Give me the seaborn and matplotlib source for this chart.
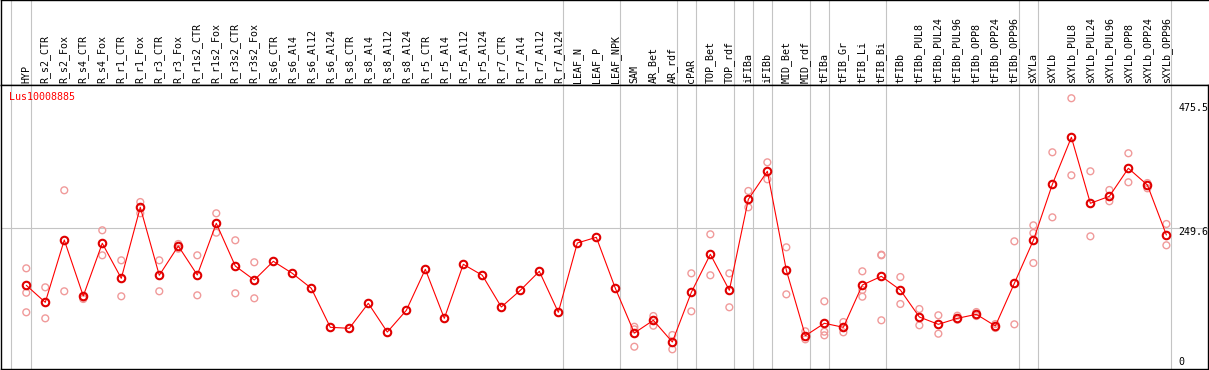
import numpy as np
import pandas as pd
import matplotlib
matplotlib.use("Agg")
import matplotlib.pyplot as plt
import matplotlib.transforms as mtransforms
import seaborn as sns

# categories (x axis, rotated header labels)
samples = ["HYP", "R_s2_CTR", "R_s2_Fox", "R_s4_CTR", "R_s4_Fox", "R_r1_CTR", "R_r1_Fox",
           "R_r3_CTR", "R_r3_Fox", "R_r1s2_CTR", "R_r1s2_Fox", "R_r3s2_CTR", "R_r3s2_Fox",
           "R_s6_CTR", "R_s6_Al4", "R_s6_Al12", "R_s6_Al24", "R_s8_CTR", "R_s8_Al4",
           "R_s8_Al12", "R_s8_Al24", "R_r5_CTR", "R_r5_Al4", "R_r5_Al12", "R_r5_Al24",
           "R_r7_CTR", "R_r7_Al4", "R_r7_Al12", "R_r7_Al24", "LEAF_N", "LEAF_P", "LEAF_NPK",
           "SAM", "AR_Bet", "AR_rdf", "cPAR", "TOP_Bet", "TOP_rdf", "iFIBa", "iFIBb",
           "MID_Bet", "MID_rdf", "tFIBa", "tFIB_Gr", "tFIB_Li", "tFIB_Bi", "tFIBb",
           "tFIBb_PUL8", "tFIBb_PUL24", "tFIBb_PUL96", "tFIBb_OPP8", "tFIBb_OPP24",
           "tFIBb_OPP96", "sXYLa", "sXYLb", "sXYLb_PUL8", "sXYLb_PUL24", "sXYLb_PUL96",
           "sXYLb_OPP8", "sXYLb_OPP24", "sXYLb_OPP96"]

# mean expression per sample
means = [150.5, 120.9, 229.2, 131.9, 223.5, 162.6, 286.0, 167.9, 218.8, 168.4, 258.2,
         184.0, 159.7, 192.2, 171.3, 145.3, 77.5, 75.8, 119.2, 69.3, 107.0, 178.3, 93.1,
         187.0, 167.9, 112.8, 141.8, 174.8, 103.6, 224.0, 233.9, 145.3, 67.6, 89.7, 52.0,
         138.3, 204.4, 141.8, 299.9, 348.6, 176.6, 62.9, 84.5, 77.5, 151.0, 166.1, 142.3,
         95.4, 82.7, 93.1, 100.1, 79.8, 154.0, 228.7, 326.0, 407.7, 293.0, 305.1, 353.8,
         324.8, 237.9]

# replicate values per sample
replicates = [[180.0, 137.6, 103.6], [147.0, 93.1], [315.6, 140.1], [128.9, 126.7],
              [246.1, 202.6], [193.9, 131.4], [295.2, 275.6], [193.9, 140.1],
              [222.3, 214.1], [202.6, 133.1], [275.6, 241.9], [228.7, 136.6],
              [190.5, 127.9], [], [], [], [], [], [], [], [], [], [], [], [], [], [], [], [],
              [], [], [],
              [78.5, 74.0, 43.8], [97.1, 80.3], [64.1, 39.3], [171.3, 105.3],
              [239.1, 167.9], [171.3, 112.3], [314.4, 286.0], [364.2, 334.7],
              [216.5, 134.8], [70.6, 56.6], [122.7, 69.9, 63.6], [86.7, 68.8],
              [174.8, 130.7, 142.3], [203.7, 202.6, 89.7], [164.9, 118.0],
              [109.3, 81.0], [98.4, 66.4], [97.7, 90.7], [104.1, 97.1], [83.2, 76.3],
              [226.9, 82.7], [254.7, 241.4, 189.2], [381.6, 268.6], [475.5, 341.6],
              [348.6, 235.6], [316.1, 296.5], [379.9, 329.5], [328.2, 319.0],
              [257.0, 220.0]]

# samples after which a separator line is drawn
separators_after = ["HYP", "R_r7_Al24", "LEAF_NPK", "AR_rdf", "cPAR", "TOP_rdf", "iFIBa",
                    "iFIBb", "MID_rdf", "tFIBa", "tFIB_Bi", "tFIBb_OPP96", "sXYLa",
                    "sXYLb_OPP96"]

gene = "Lus10008885"
scale_labels = [475.5, 249.6, 0]

sns.set_style("white")
plt.rcParams["font.family"] = ["DejaVu Sans Mono"]

df = pd.DataFrame({"pos": np.arange(len(samples)), "sample": samples, "mean": means})
rep_df = pd.DataFrame([(i, v) for i, vals in enumerate(replicates) for v in vals],
                      columns=["pos", "value"])

W, H = 1209, 370
fig = plt.figure(figsize=(W / 100, H / 100), dpi=100)
ax_h = fig.add_axes([1 / W, (H - 85) / H, 1207 / W, 85 / H])
ax = fig.add_axes([1 / W, (H - 368.7) / H, 1207 / W, (368.7 - 85) / H])

xlim = (-1.33, 62.19)
grey = "#c4c4c4"
sep_x = [-0.82] + [samples.index(s) + 0.23 for s in separators_after]

# header with sample names
ax_h.set_xlim(xlim)
ax_h.set_ylim(0, 1)
ax_h.set_xticks([])
ax_h.set_yticks([])
for x in sep_x:
    ax_h.axvline(x, color=grey, lw=0.8, zorder=0)
for i, s in enumerate(samples):
    ax_h.text(i, 0.025, s, rotation=90, ha="center", va="bottom", fontsize=7.2, color="black")
for side in ["top", "left", "bottom"]:
    ax_h.spines[side].set_color("black")
    ax_h.spines[side].set_linewidth(1)
ax_h.spines["right"].set_visible(False)

# main plot
ax.set_xlim(xlim)
ax.set_ylim(5.6, 498.5)
for x in sep_x:
    ax.axvline(x, color=grey, lw=0.8, zorder=0)
ax.axhline(249.6, color=grey, lw=0.8, zorder=0)

sns.scatterplot(data=rep_df, x="pos", y="value", ax=ax, marker="o", s=24,
                facecolor="none", edgecolor="#f09a9a", linewidth=1.0, zorder=2, legend=False)
sns.lineplot(data=df, x="pos", y="mean", ax=ax, color="#ff0000", lw=0.8, sort=False,
             marker="o", markersize=5.4, markerfacecolor="none", markeredgecolor="#e00000",
             markeredgewidth=1.5, zorder=3)

ax.set_xlabel("")
ax.set_ylabel("")
ax.set_xticks([])
ax.set_yticks([])
for side in ["top", "left", "bottom", "right"]:
    ax.spines[side].set_color("black")
    ax.spines[side].set_linewidth(1)

ax.text(0.0069, 0.9566, gene, transform=ax.transAxes, color="#ff0000", fontsize=7.2,
        ha="left", va="center")

# right-hand scale labels
trans = mtransforms.blended_transform_factory(ax.transAxes, ax.transData)
offsets_px = [-9.4, -3.7, 10.2]
for v, off in zip(scale_labels, offsets_px):
    ax.annotate(f"{v:g}", xy=(0.9756, v), xycoords=trans, xytext=(0, off * 0.72),
                textcoords="offset points", ha="left", va="center", fontsize=7.2,
                color="black", annotation_clip=False)

fig.savefig("out.png", dpi=100)
